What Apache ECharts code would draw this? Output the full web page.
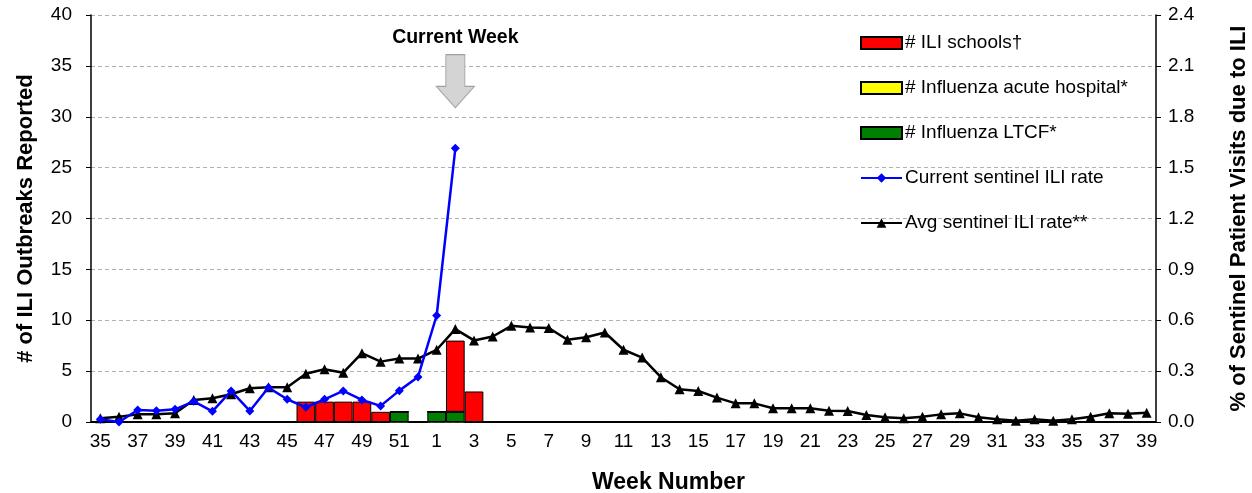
<!DOCTYPE html>
<html>
<head>
<meta charset="utf-8">
<script src="https://cdn.jsdelivr.net/npm/echarts@6/dist/echarts.min.js"></script>
<style>
html,body{margin:0;padding:0;background:#fff;}
#chart{width:1252px;height:493px;}
</style>
</head>
<body>
<div id="chart"></div>
<script>
var weeks = ['35','36','37','38','39','40','41','42','43','44','45','46','47','48','49','50','51','52',
  '1','2','3','4','5','6','7','8','9','10','11','12','13','14','15','16','17','18','19','20',
  '21','22','23','24','25','26','27','28','29','30','31','32','33','34','35','36','37','38','39'];

var iliSchools = [0,0,0,0,0,0,0,0,0,0,0,2,2,2,2,1,0,0,0,7,3,
  0,0,0,0,0,0,0,0,0,0,0,0,0,0,0,0,0,0,0,0,0,0,0,0,0,0,0,0,0,0,0,0,0,0,0,0];
var fluHospital = [0,0,0,0,0,0,0,0,0,0,0,0,0,0,0,0,0,0,0,0,0,
  0,0,0,0,0,0,0,0,0,0,0,0,0,0,0,0,0,0,0,0,0,0,0,0,0,0,0,0,0,0,0,0,0,0,0,0];
var fluLTCF = [0,0,0,0,0,0,0,0,0,0,0,0,0,0,0,0,1,0,1,1,0,
  0,0,0,0,0,0,0,0,0,0,0,0,0,0,0,0,0,0,0,0,0,0,0,0,0,0,0,0,0,0,0,0,0,0,0,0];

var currentRate = [0.016,0,0.071,0.067,0.075,0.122,0.063,0.183,0.065,0.203,0.134,0.087,0.134,0.183,0.130,0.095,0.185,0.266,0.628,1.614];

var avgRate = [0.022,0.031,0.045,0.045,0.051,0.130,0.140,0.164,0.199,0.205,0.205,0.284,0.311,0.291,0.406,0.356,0.374,0.374,
  0.426,0.548,0.481,0.504,0.567,0.557,0.554,0.485,0.500,0.528,0.426,0.380,0.264,0.193,0.183,0.144,0.110,0.110,0.081,0.081,
  0.081,0.067,0.065,0.041,0.028,0.022,0.031,0.045,0.051,0.028,0.016,0.008,0.016,0.008,0.016,0.031,0.051,0.049,0.055];

var leftTicks = {min:0, max:40, interval:5};
var rightTicks = {min:0, max:2.4, interval:0.3};
var currentWeekIndex = 19;
var arrowValue = 33.5;

var FONT = '"Liberation Sans", Arial, sans-serif';
var chart = echarts.init(document.getElementById('chart'), null, {renderer:'canvas'});

var barBorder = {borderColor:'#000', borderWidth:1};

chart.setOption({
  animation:false,
  textStyle:{fontFamily:FONT},
  grid:{left:91, right:96, top:15, bottom:71, containLabel:false, outerBoundsMode:'none'},
  legend:{
    orient:'vertical', left:860, top:33, padding:0, itemGap:25, itemWidth:41, itemHeight:12,
    textStyle:{fontFamily:FONT, fontSize:19, lineHeight:20, color:'#000', padding:[0,0,0,-2]},
    data:[
      {name:'# ILI schools†', icon:'rect'},
      {name:'# Influenza acute hospital*', icon:'rect'},
      {name:'# Influenza LTCF*', icon:'rect'},
      {name:'Current sentinel ILI rate'},
      {name:'Avg sentinel ILI rate**'}
    ]
  },
  xAxis:{
    type:'category', data:weeks, boundaryGap:true,
    name:'Week Number', nameLocation:'middle', nameGap:49,
    nameTextStyle:{fontFamily:FONT, fontSize:23, fontWeight:'bold', color:'#000', padding:[0,0,0,90]},
    axisLine:{lineStyle:{color:'#000', width:1.5}},
    axisTick:{interval:0, length:6, lineStyle:{color:'#000'}},
    axisLabel:{interval:1, fontFamily:FONT, fontSize:19, color:'#000', margin:10},
    splitLine:{show:false}
  },
  yAxis:[
    {type:'value', min:leftTicks.min, max:leftTicks.max, interval:leftTicks.interval,
     name:'# of ILI Outbreaks Reported', nameLocation:'middle', nameGap:54, nameRotate:90,
     nameTextStyle:{fontFamily:FONT, fontSize:22, fontWeight:'bold', color:'#000'},
     axisLine:{show:true, lineStyle:{color:'#000', width:1.5}},
     axisTick:{show:true, length:5, lineStyle:{color:'#000'}},
     axisLabel:{fontFamily:FONT, fontSize:19, color:'#000', margin:19},
     splitLine:{show:true, lineStyle:{color:'#b0b0b0', type:[4,3], width:1}}
    },
    {type:'value', min:rightTicks.min, max:rightTicks.max, interval:rightTicks.interval, position:'right',
     name:'% of Sentinel Patient Visits due to ILI', nameLocation:'middle', nameGap:72, nameRotate:90,
     nameTextStyle:{fontFamily:FONT, fontSize:22, fontWeight:'bold', color:'#000'},
     axisLine:{show:true, lineStyle:{color:'#000', width:1.5}},
     axisTick:{show:true, length:5, lineStyle:{color:'#000'}},
     axisLabel:{fontFamily:FONT, fontSize:19, color:'#000', margin:12,
       formatter:function(v){return v.toFixed(1);}},
     splitLine:{show:false}
    }
  ],
  series:[
    {name:'# Influenza LTCF*', type:'bar', stack:'ob', data:fluLTCF, barCategoryGap:'0%',
     itemStyle:Object.assign({color:'#008000'}, barBorder)},
    {name:'# Influenza acute hospital*', type:'bar', stack:'ob', data:fluHospital, barCategoryGap:'0%',
     itemStyle:Object.assign({color:'#FFFF00'}, barBorder)},
    {name:'# ILI schools†', type:'bar', stack:'ob', data:iliSchools, barCategoryGap:'0%',
     itemStyle:Object.assign({color:'#FF0000'}, barBorder)},
    {name:'Current sentinel ILI rate', type:'line', yAxisIndex:1, data:currentRate,
     symbol:'diamond', symbolSize:9, showAllSymbol:true,
     lineStyle:{color:'#0000FF', width:2.5}, itemStyle:{color:'#0000FF'}, z:5},
    {name:'Avg sentinel ILI rate**', type:'line', yAxisIndex:1, data:avgRate,
     symbol:'triangle', symbolSize:10, showAllSymbol:true,
     lineStyle:{color:'#000', width:2.5}, itemStyle:{color:'#000'}, z:4},
    {name:'arrow', type:'scatter', data:[], silent:true,
     markPoint:{
       symbol:'path://M5,0 L15,0 L15,18 L20,18 L10,30 L0,18 L5,18 Z',
       symbolSize:[38,53],
       itemStyle:{color:'#d4d4d4', borderColor:'#a0a0a0', borderWidth:1},
       label:{show:true, position:'top', distance:6, formatter:'Current Week',
         fontFamily:FONT, fontSize:19.5, fontWeight:'bold', color:'#000'},
       data:[{coord:[currentWeekIndex, arrowValue]}]
     }}
  ]
});
</script>
</body>
</html>
